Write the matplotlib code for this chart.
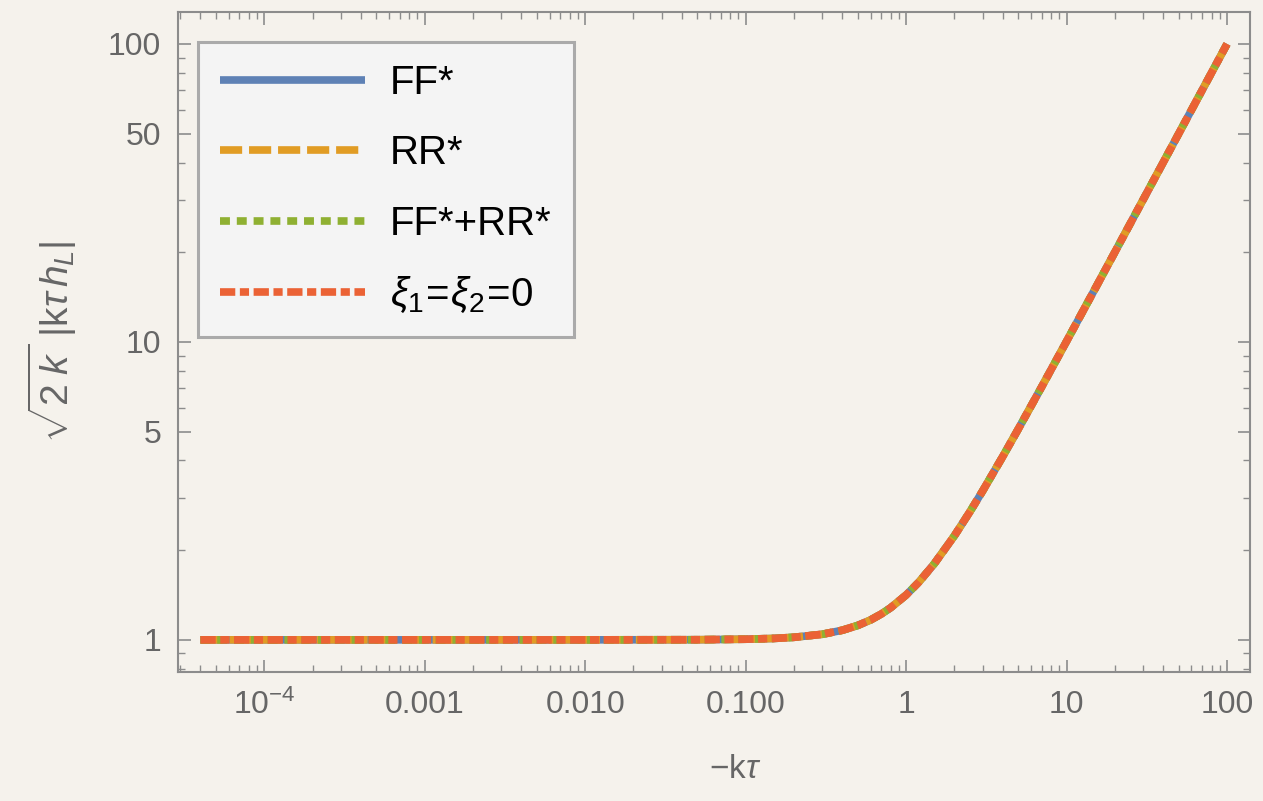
import numpy as np
import matplotlib
matplotlib.use("Agg")
from matplotlib import pyplot as plt
from matplotlib.ticker import FixedLocator, NullFormatter, LogLocator

# -k tau sample points and the mode amplitude
kt = [4e-5, 1e-4, 1e-3, 0.01, 0.05, 0.1, 0.15, 0.2, 0.3, 0.4, 0.5, 0.6, 0.7,
      0.8, 1.0, 1.2, 1.5, 2.0, 2.5, 3.0, 4.0, 5.0, 7.0, 10.0, 15.0, 20.0,
      30.0, 50.0, 70.0, 100.0]
amp = [1.0, 1.0, 1.0, 1.0, 1.001, 1.005, 1.011, 1.02, 1.044, 1.077, 1.118,
       1.166, 1.221, 1.281, 1.414, 1.562, 1.803, 2.236, 2.693, 3.162, 4.123,
       5.099, 7.071, 10.05, 15.03, 20.02, 30.02, 50.01, 70.01, 100.0]

# the four solutions lie on top of each other
ff = amp
rr = amp
ff_rr = amp
xi_zero = amp

labels = ["FF*", "RR*", "FF*+RR*", r"$\xi_1\!=\!\xi_2\!=\!0$"]
xtick_vals = [1e-4, 1e-3, 1e-2, 0.1, 1, 10, 100]
xtick_labels = [r"$10^{-4}$", "0.001", "0.010", "0.100", "1", "10", "100"]
ytick_vals = [1, 5, 10, 50, 100]
ytick_labels = ["1", "5", "10", "50", "100"]

plt.rcParams['font.family'] = ['Liberation Sans', 'DejaVu Sans']
plt.rcParams['mathtext.fontset'] = 'custom'
plt.rcParams['mathtext.rm'] = 'Liberation Sans'
plt.rcParams['mathtext.it'] = 'Liberation Sans:italic'
plt.rcParams['mathtext.bf'] = 'Liberation Sans:bold'

bg = '#f5f2ec'
frame = '#8c8c8c'
txt = '#666666'

fig = plt.figure(figsize=(12.63, 8.01), dpi=100, facecolor=bg)
ax = fig.add_axes([178 / 1263, 1 - 672 / 801, 1072 / 1263, 660 / 801])
ax.set_facecolor(bg)

lw = 5.5
ax.plot(kt, ff, color='#5e81b5', lw=lw, solid_capstyle='butt', label=labels[0])
ax.plot(kt, rr, color='#e19c24', lw=lw, dashes=(2.9, 0.9), label=labels[1])
ax.plot(kt, ff_rr, color='#8fb032', lw=lw, dashes=(1.3, 0.9), label=labels[2])
ax.plot(kt, xi_zero, color='#eb6235', lw=lw, dashes=(2.0, 0.6, 1.2, 0.6),
        label=labels[3])

ax.set_xscale('log')
ax.set_yscale('log')
ax.set_xlim(2.9e-5, 139)
ax.set_ylim(0.78, 128)

ax.xaxis.set_major_locator(FixedLocator(xtick_vals))
ax.set_xticklabels(xtick_labels)
ax.xaxis.set_minor_locator(LogLocator(base=10, subs=np.arange(2, 10), numticks=20))
ax.xaxis.set_minor_formatter(NullFormatter())
ax.yaxis.set_major_locator(FixedLocator(ytick_vals))
ax.set_yticklabels(ytick_labels)
ax.yaxis.set_minor_locator(LogLocator(base=10, subs=np.arange(2, 10), numticks=20))
ax.yaxis.set_minor_formatter(NullFormatter())

for s in ax.spines.values():
    s.set_color(frame)
    s.set_linewidth(1.5)
ax.tick_params(which='both', direction='in', top=True, right=True,
               color=frame, labelcolor=txt, labelsize=23)
ax.tick_params(which='major', length=9, width=1.2, pad=13)
ax.tick_params(which='minor', length=5, width=1.0)
ax.tick_params(axis='y', which='major', pad=12)

ax.set_xlabel(r"$-\mathrm{k}\tau$", fontsize=24, color=txt)
ax.xaxis.set_label_coords(0.52, -0.125)
ax.set_ylabel(r"$\sqrt{2\;k\,}\;|\mathrm{k}\tau\,h_L|$", fontsize=28,
              color=txt)
ax.yaxis.set_label_coords(-0.092, 0.5)

leg = ax.legend(loc='upper left', bbox_to_anchor=(0.0187, 0.9545),
                borderaxespad=0, fontsize=29, handlelength=3.6,
                labelspacing=0.8, handletextpad=0.62, borderpad=0.55,
                fancybox=False, framealpha=1, facecolor='#f4f4f4',
                edgecolor='#aaaaaa')
leg.get_frame().set_linewidth(2.2)

fig.savefig('out.png', dpi=100, facecolor=bg)
